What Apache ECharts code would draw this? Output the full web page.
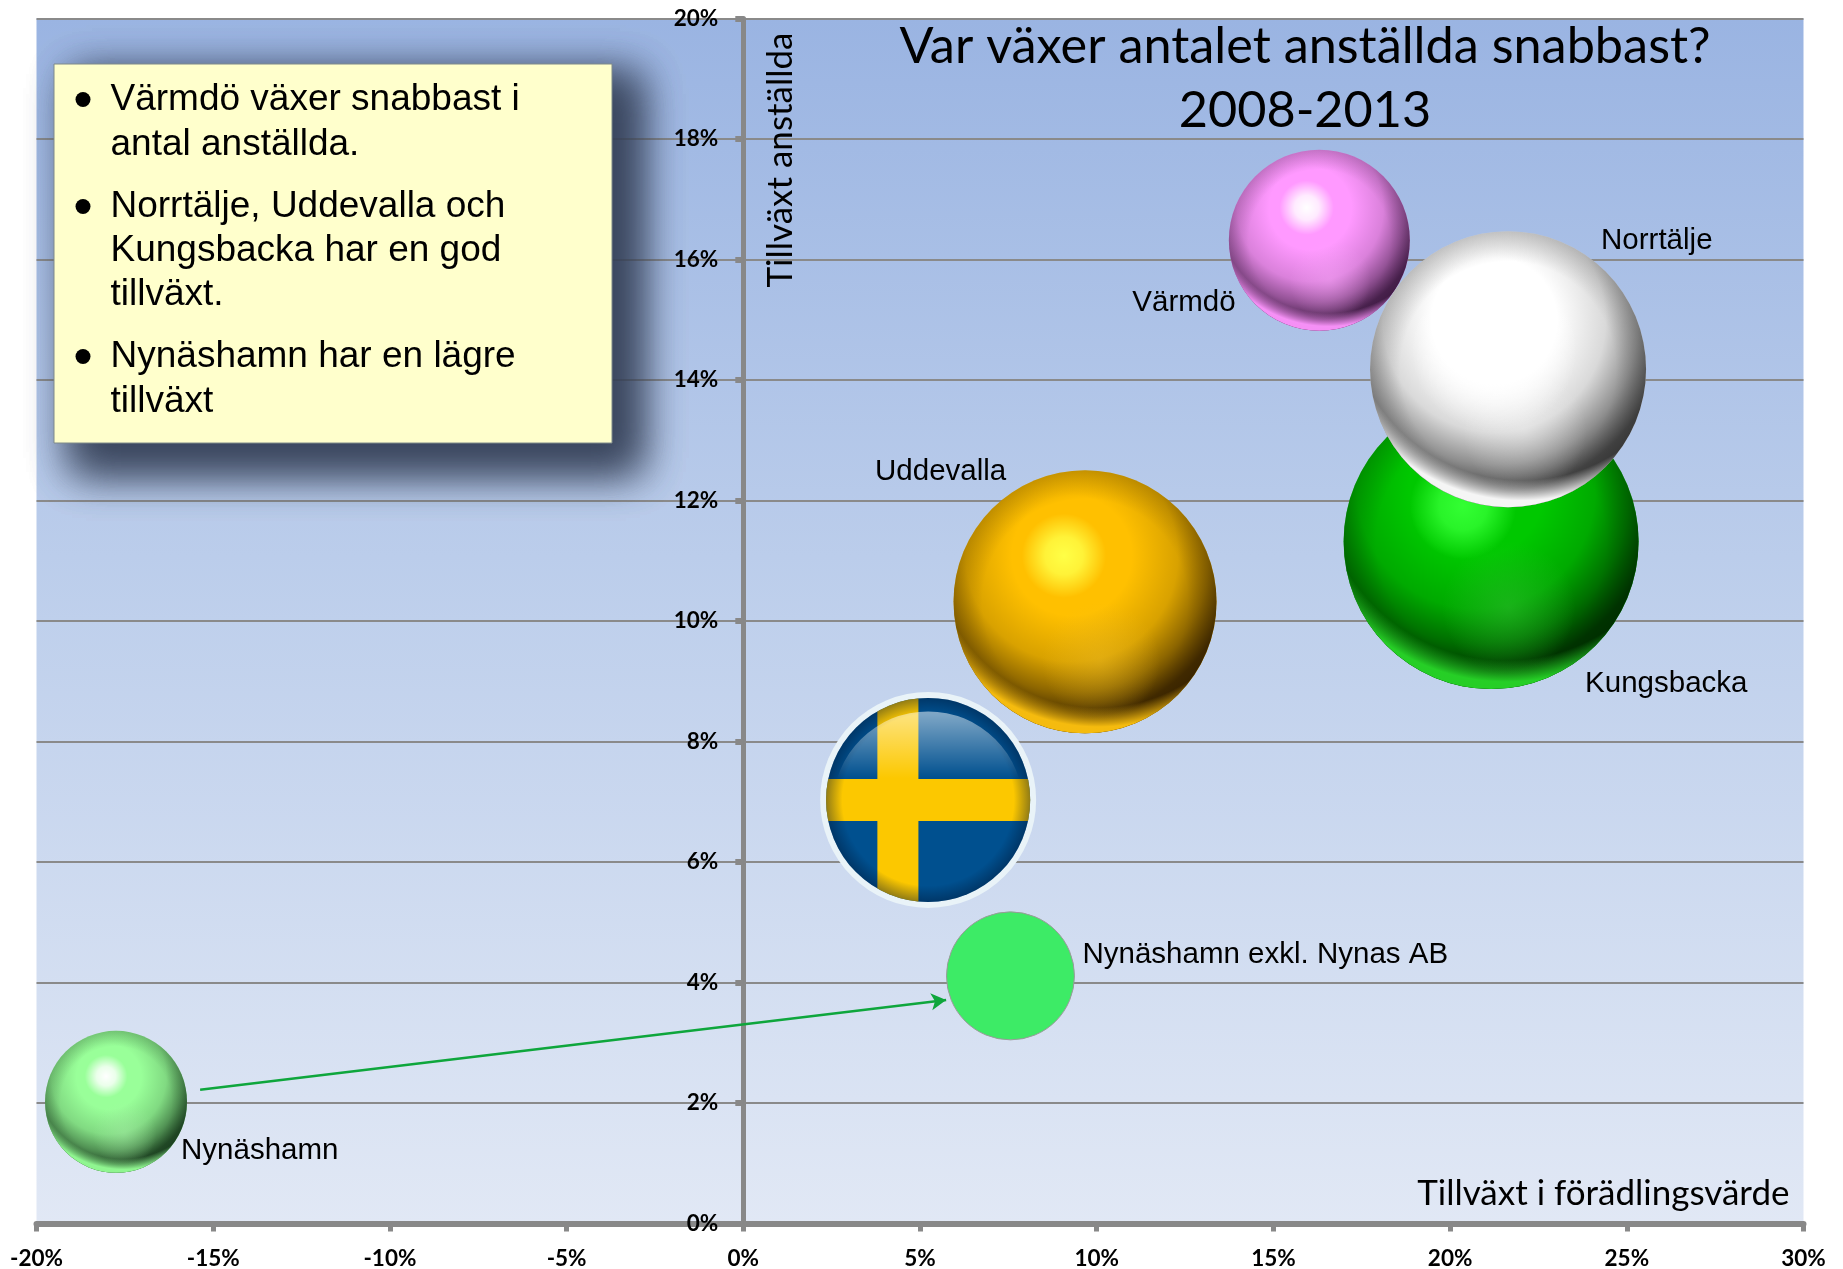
<!DOCTYPE html>
<html><head><meta charset="utf-8">
<style>html,body{margin:0;padding:0;background:#fff}#c{width:1843px;height:1269px}</style>
<script src="https://cdn.jsdelivr.net/npm/echarts@6/dist/echarts.min.js"></script>
</head><body><div id="c"></div>
<script>
const names = ['Kungsbacka','Värmdö','Norrtälje','Uddevalla','Sverige','Nynäshamn','Nynäshamn exkl. Nynas AB'];
const growthValue = [21.16,16.30,21.64,9.67,5.23,-17.75,7.56];
const growthEmployees = [11.32,16.32,14.18,10.32,7.03,2.02,4.11];
const bubbleSize = [295,181,276,263,216,142,128];
const xTicks = {min:-20,max:30,interval:5};
const yTicks = {min:0,max:20,interval:2};
const arrowFrom = [-15.37,2.22];
const arrowTo = [5.74,3.71];
const bulletLines = [
 ['Värmdö växer snabbast i','antal anställda.'],
 ['Norrtälje, Uddevalla och','Kungsbacka har en god','tillväxt.'],
 ['Nynäshamn har en lägre','tillväxt']
];

const looks = {
 'Kungsbacka':{base:'#00c800',hi:'51,255,51',hiR:.36,hiAt:[-.19,-.24],dark:'0,40,0',glow:'rgba(50,190,50,.5)',rim:'rgba(40,215,40,.95)',darkA:.95,lab:[94,142]},
 'Värmdö':{base:'#ff99ff',hi:'255,255,255',hiR:.3,hiAt:[-.14,-.36],dark:'45,15,50',glow:'rgba(255,170,255,.4)',rim:'rgba(255,150,255,.95)',darkA:.88,lab:[-187,63]},
 'Norrtälje':{base:'#ffffff',hi:'255,255,255',hiR:.6,hiAt:[-.1,-.15],dark:'30,30,30',glow:'rgba(255,255,255,.3)',rim:'rgba(255,255,255,.95)',darkA:.85,lab:[93,-128]},
 'Uddevalla':{base:'#ffc000',hi:'255,255,70',hiR:.32,hiAt:[-.16,-.35],dark:'50,30,0',glow:'rgba(240,190,40,.4)',rim:'rgba(255,195,15,.95)',darkA:.95,lab:[-210,-130]},
 'Nynäshamn':{base:'#99ff99',hi:'255,255,255',hiR:.3,hiAt:[-.14,-.36],dark:'15,45,20',glow:'rgba(170,240,170,.4)',rim:'rgba(150,255,150,.95)',darkA:.88,lab:[65,49]},
 'Nynäshamn exkl. Nynas AB':{flat:'#3deb66',lab:[72,-21]}
};

function radial(x,y,r,stops){return {type:'radial',x,y,r,global:true,colorStops:stops.map(s=>({offset:s[0],color:s[1]}))};}

function sphere(cx,cy,R,k){
  const c=(g)=>({type:'circle',shape:{cx,cy,r:R},style:{fill:g}});
  const d=k.dark, a=k.darkA;
  return [
    c(k.base),
    c(radial(cx,cy,R,[[0,`rgba(${d},0)`],[.78,`rgba(${d},0)`],[1,`rgba(${d},.2)`]])),
    c(radial(cx-.1*R,cy-.35*R,1.3*R,[[0,`rgba(${d},0)`],[.35,`rgba(${d},0)`],[.62,`rgba(${d},${a*.2})`],[.8,`rgba(${d},${a*.58})`],[.95,`rgba(${d},${a*.97})`],[1,`rgba(${d},${a})`]])),
    c(radial(cx+.1*R,cy-.45*R,1.46*R,[[0,'rgba(0,0,0,0)'],[.86,k.rim.replace(/[\d.]+\)$/,'0)')],[.96,k.rim],[1,k.rim]])),
    c(radial(cx+.12*R,cy+.45*R,.45*R,[[0,k.glow],[1,k.glow.replace(/[\d.]+\)$/,'0)')]])),
    c(radial(cx+k.hiAt[0]*R,cy+k.hiAt[1]*R,k.hiR*R,[[0,`rgba(${k.hi},1)`],[.45,`rgba(${k.hi},.8)`],[1,`rgba(${k.hi},0)`]]))
  ];
}

function flag(cx,cy,R){
  const inner=R*.945, clip={type:'circle',shape:{cx,cy,r:inner}};
  const rect=(x,y,w,h,fill)=>({type:'rect',shape:{x,y,width:w,height:h},style:{fill},clipPath:clip});
  return [
    {type:'circle',shape:{cx,cy,r:R},style:{fill:'#e9f3f8'}},
    {type:'circle',shape:{cx,cy,r:inner},style:{fill:'#00508f'}},
    rect(cx-.47*R,cy-R,.38*R,2*R,'#fcc800'),
    rect(cx-R,cy-.195*R,2*R,.39*R,'#fcc800'),
    {type:'circle',shape:{cx,cy,r:inner},style:{fill:radial(cx,cy,inner,[[0,'rgba(0,20,50,0)'],[.84,'rgba(0,20,50,0)'],[1,'rgba(0,20,50,.42)']])}},
    {type:'rect',shape:{x:cx-R,y:cy-R,width:2*R,height:.8*R},clipPath:{type:'circle',shape:{cx,cy:cy+.06*R,r:.88*R}},
      style:{fill:{type:'linear',x:0,y:cy-R,x2:0,y2:cy-.2*R,global:true,colorStops:[{offset:0,color:'rgba(255,255,255,.66)'},{offset:1,color:'rgba(255,255,255,0)'}]}}}
  ];
}

function renderBubble(params,api){
  const p=api.coord([api.value(0),api.value(1)]), R=api.value(2)/2, name=names[params.dataIndex], k=looks[name];
  let children;
  if(name==='Sverige') children=flag(p[0],p[1],R);
  else if(k.flat) children=[{type:'circle',shape:{cx:p[0],cy:p[1],r:R},style:{fill:k.flat,stroke:'#9a9a9a',lineWidth:1}}];
  else children=sphere(p[0],p[1],R,k);
  if(k&&k.lab) children.push({type:'text',style:{text:name,x:p[0]+k.lab[0],y:p[1]+k.lab[1],fill:'#000',fontFamily:'Liberation Sans',fontSize:29.5,align:'left',verticalAlign:'middle'}});
  return {type:'group',children};
}

const boxX=54,boxY=64,boxW=558,boxH=379;
const shadowShift=3000;
const shadowRect=(z)=>({type:'rect',z,shape:{x:72-shadowShift,y:74,width:568,height:398},
  style:{fill:'#000',shadowBlur:40,shadowColor:'rgba(50,62,85,.78)',shadowOffsetX:shadowShift,shadowOffsetY:0}});
const boxItems=[
  shadowRect(18),shadowRect(19),
  {type:'rect',z:20,shape:{x:boxX,y:boxY,width:boxW,height:boxH},style:{fill:'#ffffcc',stroke:'#7f8a8a',lineWidth:1}}];
const lineYs=[[99.5,144.5],[206.5,250.5,294.5],[356.5,401.5]];
bulletLines.forEach((g,i)=>{
  boxItems.push({type:'circle',z:21,shape:{cx:83,cy:lineYs[i][0],r:7.5},style:{fill:'#000'}});
  g.forEach((t,j)=>boxItems.push({type:'text',z:21,style:{text:t,x:110.5,y:lineYs[i][j],fill:'#000',fontFamily:'Liberation Sans',fontSize:37,align:'left',verticalAlign:'middle'}}));
});

const chart=echarts.init(document.getElementById('c'));
chart.setOption({
  animation:false,
  backgroundColor:'#fff',
  title:{text:'Var växer antalet anställda snabbast?\n2008-2013',left:1300,top:10,textAlign:'center',
    textStyle:{fontFamily:'Lato',fontWeight:'normal',fontSize:50.4,lineHeight:63.5,color:'#000'}},
  grid:{left:36.5,right:39.5,top:18.5,bottom:45.5,show:true,borderWidth:0,outerBoundsMode:'none',containLabel:false,
    backgroundColor:new echarts.graphic.LinearGradient(0,0,0,1,[{offset:0,color:'#9ab4e2'},{offset:.5,color:'#bfd0ec'},{offset:1,color:'#e1e8f5'}])},
  xAxis:{type:'value',min:xTicks.min,max:xTicks.max,interval:xTicks.interval,
    name:'Tillväxt i förädlingsvärde',nameLocation:'end',nameGap:-14,
    nameTextStyle:{fontFamily:'Lato',fontSize:35,color:'#000',align:'right',verticalAlign:'bottom',padding:[0,0,12,0]},
    axisLine:{show:true,lineStyle:{color:'#888',width:6}},
    axisTick:{show:true,length:8,lineStyle:{color:'#888',width:5}},
    axisLabel:{formatter:'{value}%',fontFamily:'Lato',fontWeight:'bold',fontSize:22.5,color:'#000',margin:24,hideOverlap:false,showMinLabel:true,showMaxLabel:true},
    splitLine:{show:false}},
  yAxis:{type:'value',min:yTicks.min,max:yTicks.max,interval:yTicks.interval,position:'left',offset:-706.8,
    name:'Tillväxt anställda',nameLocation:'end',nameGap:-14,nameRotate:90,
    nameTextStyle:{fontFamily:'Lato',fontSize:35,color:'#000',align:'right',verticalAlign:'top',padding:[20,0,0,0]},
    axisLine:{show:true,onZero:false,lineStyle:{color:'#888',width:5}},
    axisTick:{show:true,length:8,lineStyle:{color:'#888',width:6}},
    axisLabel:{formatter:'{value}%',fontFamily:'Lato',fontWeight:'bold',fontSize:22.5,color:'#000',margin:25,showMinLabel:true,showMaxLabel:true},
    splitLine:{show:true,lineStyle:{color:'#8a8a8a',width:2}}},
  graphic:boxItems,
  series:[{
    type:'custom',name:'Tillväxt',coordinateSystem:'cartesian2d',clip:false,silent:true,z:5,
    renderItem:renderBubble,
    encode:{x:0,y:1},
    data:names.map((n,i)=>[growthValue[i],growthEmployees[i],bubbleSize[i]]),
    markLine:{silent:true,symbol:['none','arrow'],symbolSize:[13,15],label:{show:false},
      lineStyle:{color:'#0ea63c',width:2.5,type:'solid'},
      data:[[{coord:arrowFrom},{coord:arrowTo}]]}
  }]
});
</script></body></html>
